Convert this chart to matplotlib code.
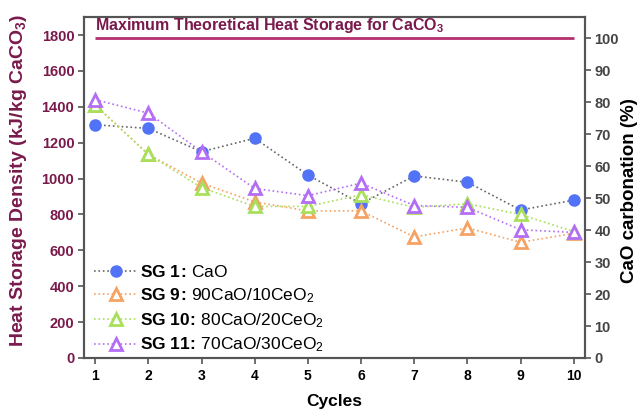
import matplotlib
matplotlib.use("Agg")
import matplotlib.pyplot as plt

plt.rcParams['font.family'] = ['Liberation Sans', 'DejaVu Sans']
plt.rcParams['mathtext.fontset'] = 'custom'
plt.rcParams['mathtext.rm'] = 'Liberation Sans'
plt.rcParams['mathtext.bf'] = 'Liberation Sans:bold'
plt.rcParams['mathtext.it'] = 'Liberation Sans:italic'

# data (kJ/kg CaCO3)
cycles = [1, 2, 3, 4, 5, 6, 7, 8, 9, 10]
sg1 = [1300, 1280, 1150, 1225, 1020, 860, 1015, 980, 825, 880]
sg9 = [1410, 1135, 975, 870, 820, 820, 675, 725, 645, 695]
sg10 = [1410, 1135, 950, 845, 845, 910, 840, 860, 800, 705]
sg11 = [1440, 1365, 1150, 945, 905, 975, 850, 840, 715, 700]
labels = [r"$\bf{SG\ 1\!:\!}$ CaO",
          r"$\bf{SG\ 9\!:\!}$ 90CaO/10CeO$_2$",
          r"$\bf{SG\ 10\!:\!}$ 80CaO/20CeO$_2$",
          r"$\bf{SG\ 11\!:\!}$ 70CaO/30CeO$_2$"]
max_heat = 1783  # theoretical max, equals 100 % carbonation
max_pct = 100

maroon = '#7a1a4c'
spine_c = '#555555'

fig = plt.figure(figsize=(6.38, 4.09), dpi=100)
ax = fig.add_axes([0.1317, 0.1247, 0.785, 0.8333])
ax2 = ax.twinx()

# series
ax.plot(cycles, sg1, ls=':', color='#666666', lw=1.2, marker='o', ms=8,
        mfc='#5272f7', mec='#5272f7', label=labels[0])
ax.plot(cycles, sg9, ls=':', color='#f5a263', lw=1.2, marker='^', ms=9,
        mfc='white', mec='#f5a263', mew=2, label=labels[1])
ax.plot(cycles, sg10, ls=':', color='#a8e05c', lw=1.2, marker='^', ms=9,
        mfc='white', mec='#a8e05c', mew=2, label=labels[2])
ax.plot(cycles, sg11, ls=':', color='#b46ef5', lw=1.2, marker='^', ms=9,
        mfc='white', mec='#b46ef5', mew=2, label=labels[3])

ax.set_xlim(0.79, 10.21)
ax.set_ylim(0, 1900)
ax2.set_ylim(0, 1900 / max_heat * 100)

# max theoretical line
ax2.hlines(max_pct, cycles[0], cycles[-1], color='#b5306f', lw=2)
ax2.annotate(r"Maximum Theoretical Heat Storage for CaCO$_\mathbf{3}$",
             xy=(cycles[0], max_pct), xytext=(0, 2), textcoords='offset points',
             ha='left', va='bottom', fontsize=11.5, fontweight='bold', color=maroon)

ax.set_xticks(cycles)
ax.set_yticks(range(0, 1801, 200))
ax2.set_yticks(range(0, 101, 10))

for a in (ax, ax2):
    for s in a.spines.values():
        s.set_color(spine_c)
        s.set_linewidth(1.5)

ax.tick_params(axis='x', direction='out', length=4, width=1.2, color=spine_c,
               labelsize=10, pad=4)
ax.tick_params(axis='y', direction='out', length=4, width=1.2, color=spine_c,
               labelsize=10.5, labelcolor=maroon, pad=3)
ax2.tick_params(axis='y', direction='out', length=4, width=1.2, color=spine_c,
                labelsize=10.5, labelcolor='#444444', pad=3)
for lbl in ax.get_xticklabels() + ax.get_yticklabels() + ax2.get_yticklabels():
    lbl.set_fontweight('bold')

ax.set_xlabel("Cycles", fontsize=12.5, fontweight='bold', labelpad=8)
ax.set_ylabel(r"Heat Storage Density (kJ/kg CaCO$_\mathbf{3}$)", fontsize=14,
              fontweight='bold', color=maroon)
ax.yaxis.set_label_coords(-0.11, 0.52)
ax2.set_ylabel("CaO carbonation (%)", fontsize=13.5, fontweight='bold')
ax2.yaxis.set_label_coords(1.072, 0.49)

ax.legend(loc='lower left', bbox_to_anchor=(0.0, -0.02), frameon=False,
          fontsize=12.5, handlelength=2.5, handletextpad=0.1, labelspacing=0.35,
          borderaxespad=0.2)

fig.savefig("out.png", dpi=100)
